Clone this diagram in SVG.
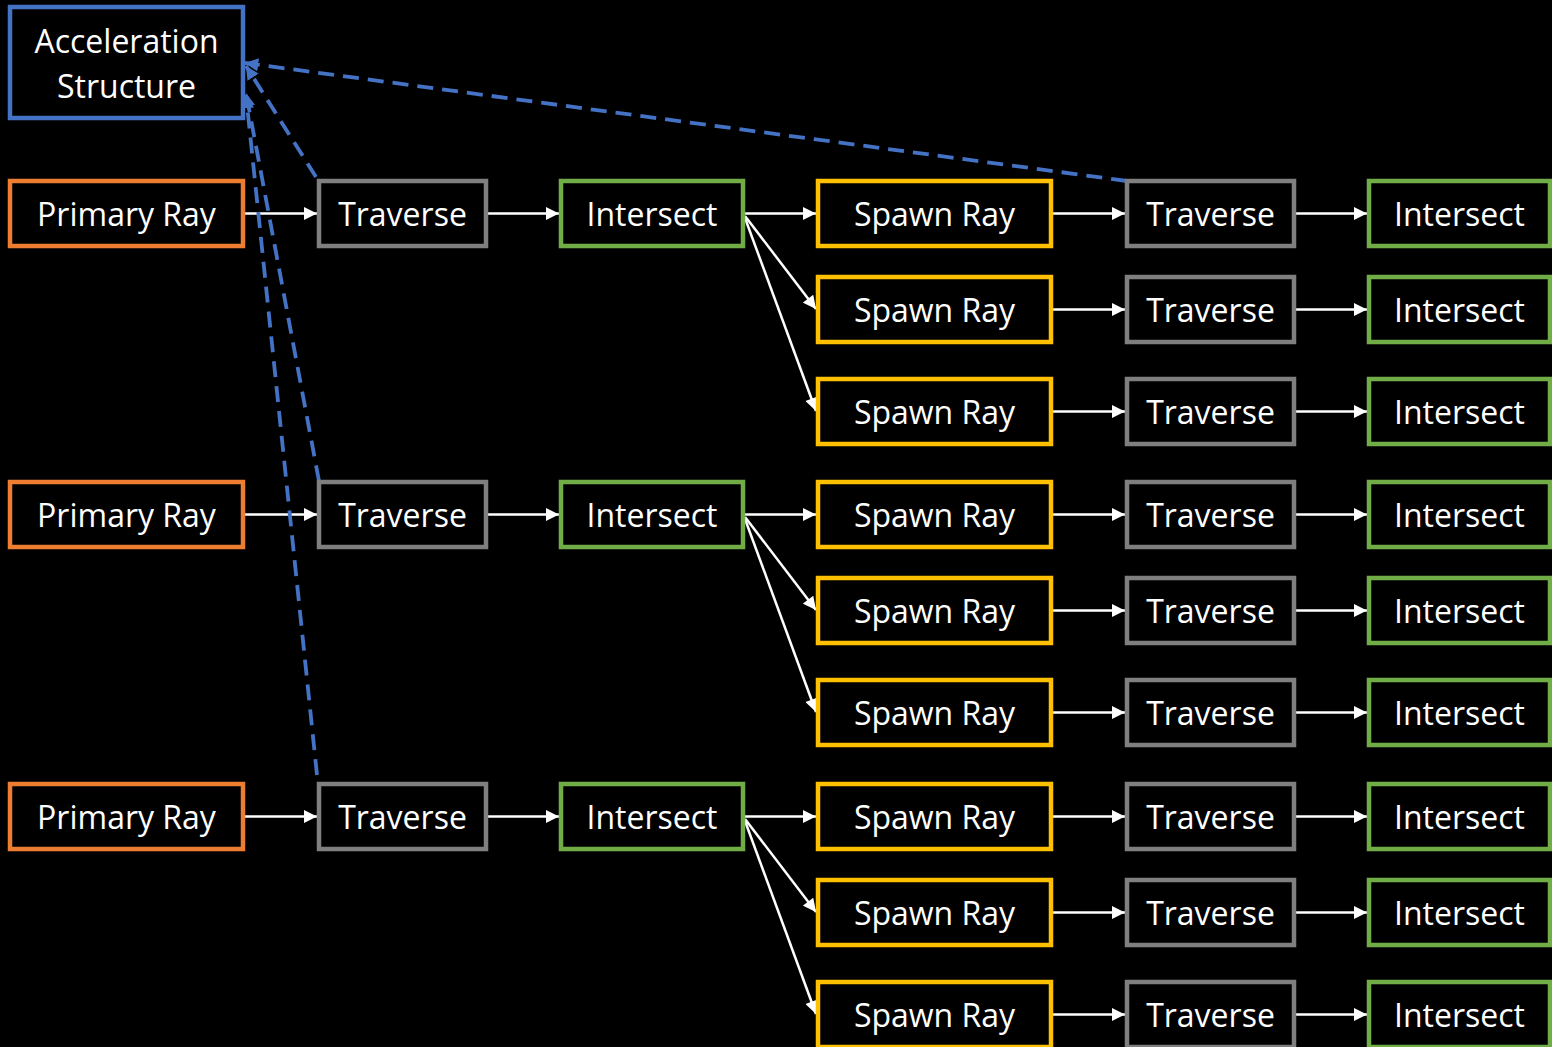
<svg xmlns="http://www.w3.org/2000/svg" width="1552" height="1047" viewBox="0 0 1552 1047">
  <defs>
    <marker id="arrow" viewBox="0 0 10 10" refX="10" refY="5" markerWidth="5.8" markerHeight="5.2" markerUnits="strokeWidth" orient="auto">
      <path d="M0,0 L10,5 L0,10 z" fill="#ffffff"/>
    </marker>
    <marker id="arrowBlue" viewBox="0 0 10 10" refX="10" refY="5" markerWidth="3.5" markerHeight="3.5" markerUnits="strokeWidth" orient="auto">
      <path d="M0,0 L10,5 L0,10 z" fill="#4472C4"/>
    </marker>
  </defs>
  <style>
    .box { fill: #000000; stroke-width: 4.5; }
    .accel { stroke: #4472C4; }
    .primary { stroke: #ED7D31; }
    .traverse { stroke: #7F7F7F; }
    .intersect { stroke: #70AD47; }
    .spawn { stroke: #FFC000; }
    .label { fill: #ffffff; font-family: "Open Sans", "Noto Sans", "Liberation Sans", sans-serif; font-size: 32px; text-anchor: middle; dominant-baseline: central; }
    .flow { stroke: #ffffff; stroke-width: 2.5; fill: none; marker-end: url(#arrow); }
    .dep { stroke: #4472C4; stroke-width: 3.8; fill: none; stroke-dasharray: 16 9; marker-end: url(#arrowBlue); }
  </style>
  <rect width="1552" height="1047" fill="#000000"/>

  <!-- connectors -->
  <g id="connectors">
    <!-- primary ray -> traverse -> intersect -->
    <line class="flow" x1="245" y1="213.5" x2="317" y2="213.5"/>
    <line class="flow" x1="488" y1="213.5" x2="559" y2="213.5"/>
    <line class="flow" x1="245" y1="514.5" x2="317" y2="514.5"/>
    <line class="flow" x1="488" y1="514.5" x2="559" y2="514.5"/>
    <line class="flow" x1="245" y1="816.5" x2="317" y2="816.5"/>
    <line class="flow" x1="488" y1="816.5" x2="559" y2="816.5"/>

    <!-- intersect -> spawned rays -->
    <line class="flow" x1="745" y1="213.5" x2="816" y2="213.5"/>
    <line class="flow" x1="745" y1="216" x2="816" y2="309"/>
    <line class="flow" x1="745" y1="218" x2="816" y2="411"/>
    <line class="flow" x1="745" y1="514.5" x2="816" y2="514.5"/>
    <line class="flow" x1="745" y1="517" x2="816" y2="610"/>
    <line class="flow" x1="745" y1="519" x2="816" y2="712"/>
    <line class="flow" x1="745" y1="816.5" x2="816" y2="816.5"/>
    <line class="flow" x1="745" y1="819" x2="816" y2="912"/>
    <line class="flow" x1="745" y1="821" x2="816" y2="1014"/>

    <!-- spawn ray -> traverse -> intersect -->
    <line class="flow" x1="1053" y1="213.5" x2="1125" y2="213.5"/>
    <line class="flow" x1="1296" y1="213.5" x2="1367" y2="213.5"/>
    <line class="flow" x1="1053" y1="309.5" x2="1125" y2="309.5"/>
    <line class="flow" x1="1296" y1="309.5" x2="1367" y2="309.5"/>
    <line class="flow" x1="1053" y1="411.5" x2="1125" y2="411.5"/>
    <line class="flow" x1="1296" y1="411.5" x2="1367" y2="411.5"/>
    <line class="flow" x1="1053" y1="514.5" x2="1125" y2="514.5"/>
    <line class="flow" x1="1296" y1="514.5" x2="1367" y2="514.5"/>
    <line class="flow" x1="1053" y1="610.5" x2="1125" y2="610.5"/>
    <line class="flow" x1="1296" y1="610.5" x2="1367" y2="610.5"/>
    <line class="flow" x1="1053" y1="712.5" x2="1125" y2="712.5"/>
    <line class="flow" x1="1296" y1="712.5" x2="1367" y2="712.5"/>
    <line class="flow" x1="1053" y1="816.5" x2="1125" y2="816.5"/>
    <line class="flow" x1="1296" y1="816.5" x2="1367" y2="816.5"/>
    <line class="flow" x1="1053" y1="912.5" x2="1125" y2="912.5"/>
    <line class="flow" x1="1296" y1="912.5" x2="1367" y2="912.5"/>
    <line class="flow" x1="1053" y1="1014.5" x2="1125" y2="1014.5"/>
    <line class="flow" x1="1296" y1="1014.5" x2="1367" y2="1014.5"/>

    <!-- traversals read the acceleration structure -->
    <line class="dep" x1="1127" y1="181" x2="245" y2="63"/>
    <line class="dep" x1="316" y1="177" x2="246" y2="66"/>
    <line class="dep" x1="319" y1="481" x2="246" y2="93"/>
    <line class="dep" x1="317" y1="775" x2="246" y2="95"/>
  </g>

  <g id="accel-structure">
    <rect class="box accel" x="10" y="7" width="233" height="111"/>
    <text class="label" x="126.5" y="40">Acceleration</text>
    <text class="label" x="126.5" y="85">Structure</text>
  </g>

  <g id="primary-1"><rect class="box primary" x="10" y="181" width="233" height="65"/><text class="label" x="126.5" y="213">Primary Ray</text></g>
  <g id="primary-2"><rect class="box primary" x="10" y="482" width="233" height="65"/><text class="label" x="126.5" y="514">Primary Ray</text></g>
  <g id="primary-3"><rect class="box primary" x="10" y="784" width="233" height="65"/><text class="label" x="126.5" y="816">Primary Ray</text></g>

  <g id="traverse-1"><rect class="box traverse" x="319" y="181" width="167" height="65"/><text class="label" x="402.5" y="213">Traverse</text></g>
  <g id="traverse-2"><rect class="box traverse" x="319" y="482" width="167" height="65"/><text class="label" x="402.5" y="514">Traverse</text></g>
  <g id="traverse-3"><rect class="box traverse" x="319" y="784" width="167" height="65"/><text class="label" x="402.5" y="816">Traverse</text></g>

  <g id="intersect-1"><rect class="box intersect" x="561" y="181" width="182" height="65"/><text class="label" x="652" y="213">Intersect</text></g>
  <g id="intersect-2"><rect class="box intersect" x="561" y="482" width="182" height="65"/><text class="label" x="652" y="514">Intersect</text></g>
  <g id="intersect-3"><rect class="box intersect" x="561" y="784" width="182" height="65"/><text class="label" x="652" y="816">Intersect</text></g>

  <!-- secondary rays: spawn, traverse, intersect -->
  <g id="spawn-1"><rect class="box spawn" x="818" y="181" width="233" height="65"/><text class="label" x="934.5" y="213">Spawn Ray</text></g>
  <g id="spawn-2"><rect class="box spawn" x="818" y="277" width="233" height="65"/><text class="label" x="934.5" y="309">Spawn Ray</text></g>
  <g id="spawn-3"><rect class="box spawn" x="818" y="379" width="233" height="65"/><text class="label" x="934.5" y="411">Spawn Ray</text></g>
  <g id="spawn-4"><rect class="box spawn" x="818" y="482" width="233" height="65"/><text class="label" x="934.5" y="514">Spawn Ray</text></g>
  <g id="spawn-5"><rect class="box spawn" x="818" y="578" width="233" height="65"/><text class="label" x="934.5" y="610">Spawn Ray</text></g>
  <g id="spawn-6"><rect class="box spawn" x="818" y="680" width="233" height="65"/><text class="label" x="934.5" y="712">Spawn Ray</text></g>
  <g id="spawn-7"><rect class="box spawn" x="818" y="784" width="233" height="65"/><text class="label" x="934.5" y="816">Spawn Ray</text></g>
  <g id="spawn-8"><rect class="box spawn" x="818" y="880" width="233" height="65"/><text class="label" x="934.5" y="912">Spawn Ray</text></g>
  <g id="spawn-9"><rect class="box spawn" x="818" y="982" width="233" height="65"/><text class="label" x="934.5" y="1014">Spawn Ray</text></g>

  <g id="traverse-s1"><rect class="box traverse" x="1127" y="181" width="167" height="65"/><text class="label" x="1210.5" y="213">Traverse</text></g>
  <g id="traverse-s2"><rect class="box traverse" x="1127" y="277" width="167" height="65"/><text class="label" x="1210.5" y="309">Traverse</text></g>
  <g id="traverse-s3"><rect class="box traverse" x="1127" y="379" width="167" height="65"/><text class="label" x="1210.5" y="411">Traverse</text></g>
  <g id="traverse-s4"><rect class="box traverse" x="1127" y="482" width="167" height="65"/><text class="label" x="1210.5" y="514">Traverse</text></g>
  <g id="traverse-s5"><rect class="box traverse" x="1127" y="578" width="167" height="65"/><text class="label" x="1210.5" y="610">Traverse</text></g>
  <g id="traverse-s6"><rect class="box traverse" x="1127" y="680" width="167" height="65"/><text class="label" x="1210.5" y="712">Traverse</text></g>
  <g id="traverse-s7"><rect class="box traverse" x="1127" y="784" width="167" height="65"/><text class="label" x="1210.5" y="816">Traverse</text></g>
  <g id="traverse-s8"><rect class="box traverse" x="1127" y="880" width="167" height="65"/><text class="label" x="1210.5" y="912">Traverse</text></g>
  <g id="traverse-s9"><rect class="box traverse" x="1127" y="982" width="167" height="65"/><text class="label" x="1210.5" y="1014">Traverse</text></g>

  <g id="intersect-s1"><rect class="box intersect" x="1369" y="181" width="181" height="65"/><text class="label" x="1459.5" y="213">Intersect</text></g>
  <g id="intersect-s2"><rect class="box intersect" x="1369" y="277" width="181" height="65"/><text class="label" x="1459.5" y="309">Intersect</text></g>
  <g id="intersect-s3"><rect class="box intersect" x="1369" y="379" width="181" height="65"/><text class="label" x="1459.5" y="411">Intersect</text></g>
  <g id="intersect-s4"><rect class="box intersect" x="1369" y="482" width="181" height="65"/><text class="label" x="1459.5" y="514">Intersect</text></g>
  <g id="intersect-s5"><rect class="box intersect" x="1369" y="578" width="181" height="65"/><text class="label" x="1459.5" y="610">Intersect</text></g>
  <g id="intersect-s6"><rect class="box intersect" x="1369" y="680" width="181" height="65"/><text class="label" x="1459.5" y="712">Intersect</text></g>
  <g id="intersect-s7"><rect class="box intersect" x="1369" y="784" width="181" height="65"/><text class="label" x="1459.5" y="816">Intersect</text></g>
  <g id="intersect-s8"><rect class="box intersect" x="1369" y="880" width="181" height="65"/><text class="label" x="1459.5" y="912">Intersect</text></g>
  <g id="intersect-s9"><rect class="box intersect" x="1369" y="982" width="181" height="65"/><text class="label" x="1459.5" y="1014">Intersect</text></g>
</svg>
